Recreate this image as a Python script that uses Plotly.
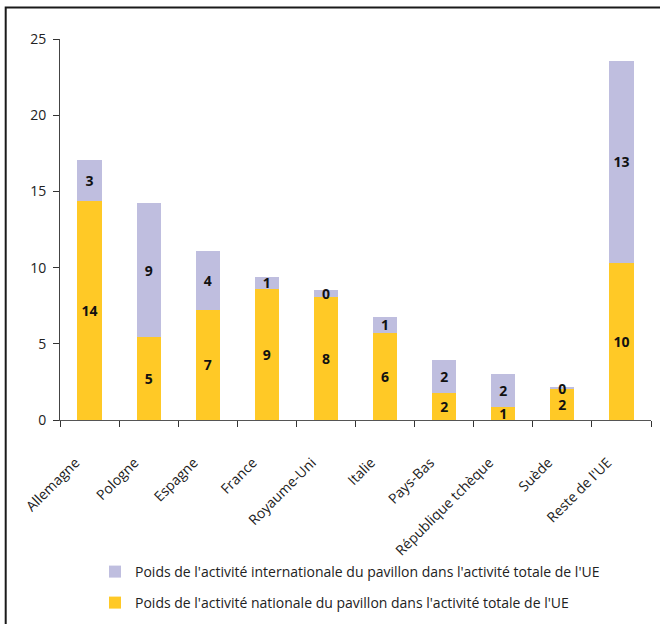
import plotly.graph_objects as go

# Pays / zones
pays = ["Allemagne", "Pologne", "Espagne", "France", "Royaume-Uni", "Italie",
        "Pays-Bas", "République tchèque", "Suède", "Reste de l'UE"]

# Poids (%) de l'activité nationale et internationale du pavillon dans l'activité totale de l'UE
nationale = [14.38, 5.42, 7.23, 8.61, 8.09, 5.74, 1.74, 0.87, 2.01, 10.30]
internationale = [2.69, 8.83, 3.87, 0.79, 0.45, 0.99, 2.21, 2.17, 0.17, 13.26]

y_ticks = [0, 5, 10, 15, 20, 25]

COL_NAT = "#FFC926"
COL_INT = "#BFBEDF"
FONT = "Open Sans"

fig = go.Figure()
fig.add_trace(go.Bar(
    x=pays, y=nationale, name="Poids de l'activité nationale du pavillon dans l'activité totale de l'UE",
    marker=dict(color=COL_NAT, line=dict(width=0)),
    texttemplate="<b>%{y:.0f}</b>", textposition="inside", insidetextanchor="middle",
    textangle=0, constraintext="none",
    textfont=dict(family=FONT, size=14, color="#111111"),
    legend="legend2",
))
fig.add_trace(go.Bar(
    x=pays, y=internationale, name="Poids de l'activité internationale du pavillon dans l'activité totale de l'UE",
    marker=dict(color=COL_INT, line=dict(width=0)),
    texttemplate="<b>%{y:.0f}</b>", textposition="inside", insidetextanchor="middle",
    textangle=0, constraintext="none",
    textfont=dict(family=FONT, size=14, color="#111111"),
    legend="legend",
))

L, R, T, B = 60, 9, 39, 204
W, H = 660, 624
pw, ph = W - L - R, H - T - B

def px_x(px):
    return (px - L) / pw

def px_y(py):
    return (H - B - py) / ph

legend_font = dict(family=FONT, size=14, color="#222222")

fig.update_layout(
    width=W, height=H,
    margin=dict(l=L, r=R, t=T, b=B, autoexpand=False),
    paper_bgcolor="white", plot_bgcolor="white",
    barmode="stack", bargap=0.59,
    uniformtext=dict(minsize=14, mode="show"),
    font=dict(family=FONT, size=13, color="#222222"),
    showlegend=True,
    legend=dict(x=px_x(95), y=px_y(572), xanchor="left", yanchor="middle",
                font=legend_font, bgcolor="rgba(0,0,0,0)"),
    legend2=dict(x=px_x(95), y=px_y(603), xanchor="left", yanchor="middle",
                 font=legend_font, bgcolor="rgba(0,0,0,0)"),
    xaxis=dict(
        tickangle=-45, showline=True, linecolor="#555555", linewidth=1,
        ticks="outside", tickson="boundaries", ticklen=6, tickcolor="#333333",
        tickfont=dict(family=FONT, size=14, color="#222222"),
        ticklabelstandoff=28, ticklabelshift=-14,
        showgrid=False, zeroline=False, automargin=False,
    ),
    yaxis=dict(
        range=[0, 25], tickvals=y_ticks, showline=True, linecolor="#444444", linewidth=1,
        ticks="outside", ticklen=6, tickcolor="#333333",
        tickfont=dict(family=FONT, size=14, color="#222222"),
        showgrid=False, zeroline=False, ticklabelstandoff=4, automargin=False,
    ),
    shapes=[
        dict(type="rect", xref="paper", yref="paper",
             x0=px_x(5.7), x1=px_x(680), y0=px_y(660), y1=px_y(7.5),
             line=dict(color="#1a1a1a", width=2), fillcolor="rgba(0,0,0,0)", layer="above"),
    ],
)

fig.write_html("out.html")
